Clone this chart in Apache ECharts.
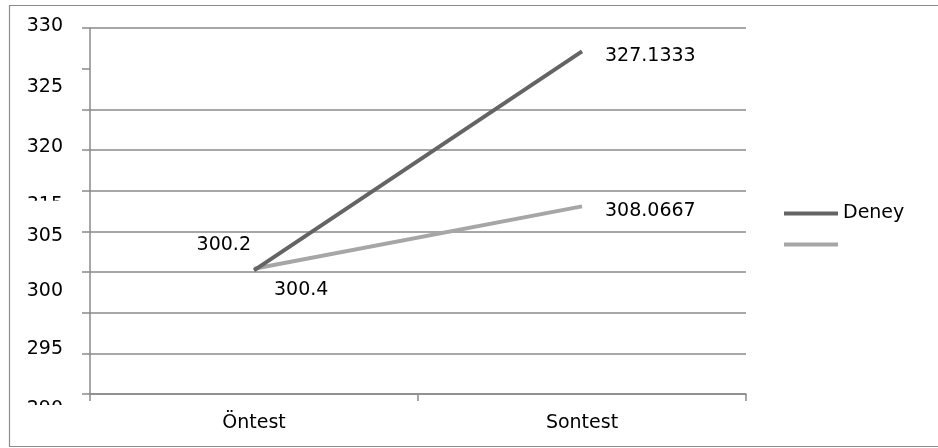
<!DOCTYPE html>
<html>
<head>
<meta charset="utf-8">
<script src="https://cdn.jsdelivr.net/npm/echarts@6/dist/echarts.min.js"></script>
<style>
  html, body { margin: 0; padding: 0; background: #fff; }
  #chart { width: 938px; height: 448px; }
</style>
</head>
<body>
<div id="chart"></div>
<script>
// ---- data ----
const categories = ['Öntest', 'Sontest'];
const deneyName = 'Deney';
const kontrolName = ' ';
const deneyValues = [300.2, 327.1333];
const kontrolValues = [300.4, 308.0667];
// tick labels as printed, from tick 285 up to tick 330
const yTickLabels = ['290', '295', '', '300', '305', '315', '320', '', '325', '330'];

// ---- presentation ----
const yMin = 285, yMax = 330, yStep = 5;
const yLabelShift = [15, -4, 0, 19.5, 4.5, 14, -2.5, 0, 18, -2]; // px, per tick
const FONT = 'DejaVu Sans';
const gridColor = '#8a8a8a';
const darkColor = '#646464';
const lightColor = '#a6a6a6';

const rich = {};
yLabelShift.forEach((s, i) => {
  rich['t' + i] = {
    fontFamily: FONT, fontSize: 19, color: '#000',
    padding: s >= 0 ? [2 * s, 0, 0, 0] : [0, 0, -2 * s, 0]
  };
});

const splitColors = yTickLabels.map((_, i) => (i === 8 ? 'rgba(0,0,0,0)' : gridColor));

function withLabels(values, cfgs) {
  return values.map((v, i) => ({ value: v, label: cfgs[i] }));
}

const chart = echarts.init(document.getElementById('chart'), null, { renderer: 'canvas' });
chart.setOption({
  animation: false,
  textStyle: { fontFamily: FONT },
  grid: { left: 90, right: 192, top: 28, bottom: 54, containLabel: false },
  legend: {
    orient: 'vertical',
    left: 784,
    top: 204,
    padding: 0,
    itemWidth: 54,
    itemHeight: 4,
    itemGap: 12,
    icon: 'rect',
    textStyle: { fontFamily: FONT, fontSize: 19, color: '#000' },
    data: [deneyName, kontrolName]
  },
  xAxis: {
    type: 'category',
    data: categories,
    boundaryGap: true,
    axisLine: { lineStyle: { color: gridColor, width: 1.5 } },
    axisTick: { show: true, length: 7, lineStyle: { color: gridColor, width: 1.5 } },
    axisLabel: { color: '#000', fontFamily: FONT, fontSize: 19, margin: 20 },
    splitLine: { show: false }
  },
  yAxis: {
    type: 'value',
    min: yMin, max: yMax, interval: yStep,
    axisLine: { show: true, lineStyle: { color: gridColor, width: 1.5 } },
    axisTick: { show: true, length: 8, lineStyle: { color: gridColor, width: 1.5 } },
    axisLabel: {
      margin: 27,
      formatter: function (value) {
        const i = Math.round((value - yMin) / yStep);
        const t = yTickLabels[i];
        return t ? '{t' + i + '|' + t + '}' : '';
      },
      rich: rich
    },
    splitLine: { show: true, lineStyle: { color: splitColors, width: 1.5 } }
  },
  series: [
    {
      name: deneyName,
      type: 'line',
      data: withLabels(deneyValues, [
        { position: 'left', distance: 3, offset: [0, -25] },
        { position: 'right', distance: 23, offset: [0, 5] }
      ]),
      symbol: 'circle', symbolSize: 0, showSymbol: true,
      lineStyle: { color: darkColor, width: 4 },
      itemStyle: { color: darkColor },
      label: { show: true, color: '#000', fontFamily: FONT, fontSize: 19,
        formatter: p => String(p.value) },
      z: 3
    },
    {
      name: kontrolName,
      type: 'line',
      data: withLabels(kontrolValues, [
        { position: 'right', distance: 20, offset: [0, 21] },
        { position: 'right', distance: 23, offset: [0, 5] }
      ]),
      symbol: 'circle', symbolSize: 0, showSymbol: true,
      lineStyle: { color: lightColor, width: 4 },
      itemStyle: { color: lightColor },
      label: { show: true, color: '#000', fontFamily: FONT, fontSize: 19,
        formatter: p => String(p.value) },
      z: 2
    }
  ]
});

// frame and the clipped look of two tick labels
const y310 = chart.convertToPixel({ yAxisIndex: 0 }, 310);
const y285 = chart.convertToPixel({ yAxisIndex: 0 }, 285);
chart.setOption({
  graphic: [
    { type: 'rect', z: -10, silent: true,
      shape: { x: 9.5, y: 5.5, width: 940, height: 441 },
      style: { fill: 'none', stroke: '#8c8c8c', lineWidth: 1.2 } },
    { type: 'rect', z: 100, silent: true,
      shape: { x: 14, y: y310 + 10, width: 64, height: 12 },
      style: { fill: '#fff' } },
    { type: 'rect', z: 100, silent: true,
      shape: { x: 14, y: y285 + 11, width: 64, height: 14 },
      style: { fill: '#fff' } }
  ]
});
</script>
</body>
</html>
